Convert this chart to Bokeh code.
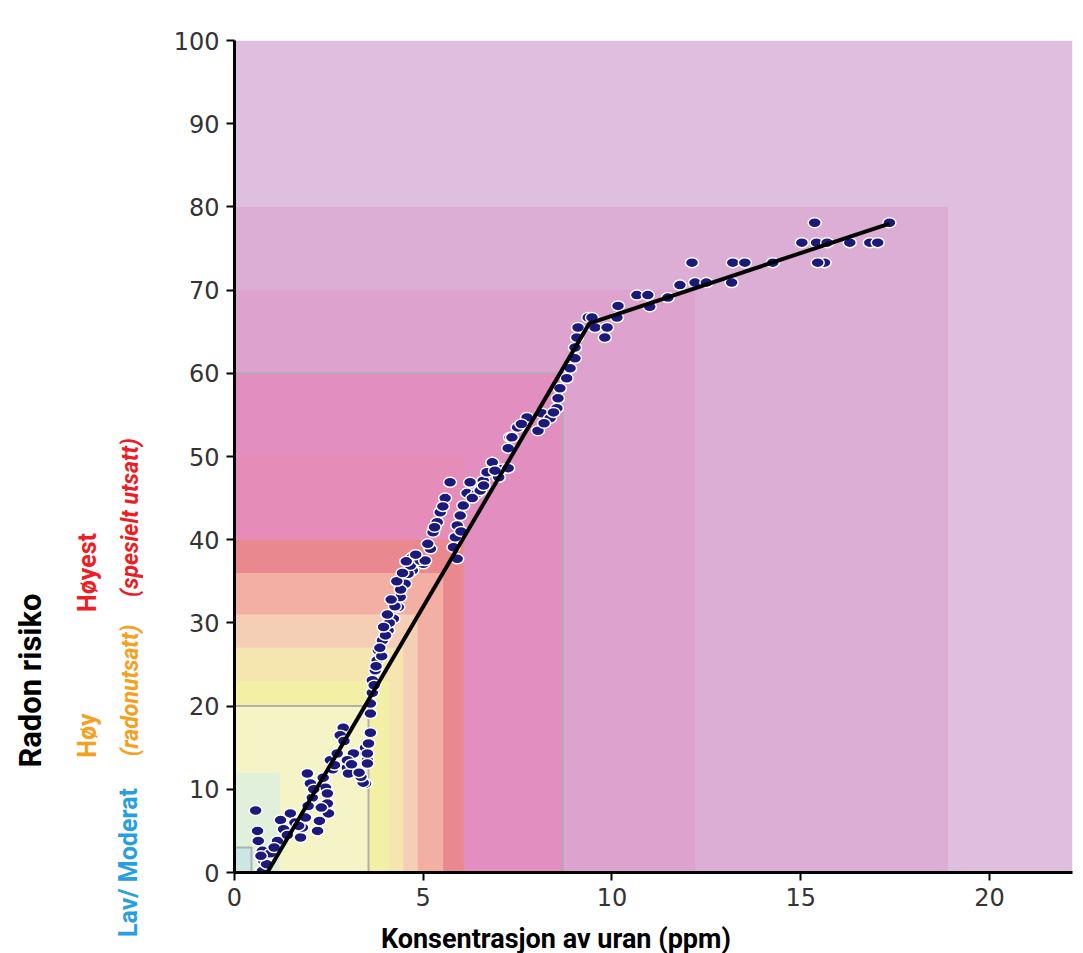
import math
from bokeh.plotting import figure
from bokeh.models import Range1d, FixedTicker
from bokeh.core.properties import value
from bokeh.layouts import row, column
from bokeh.embed import file_html
from bokeh.resources import INLINE

# ---------------- data ----------------
# nested risk zones (rectangles anchored at origin): right edge (ppm), top (risk), colour
zone_right = [22.2, 18.9, 12.2, 8.7, 6.1, 6.07, 5.53, 4.85, 4.47, 4.1, 3.55, 1.2, 0.45]
zone_top = [100, 80, 70, 60, 50, 40, 36, 31, 27, 23, 20, 12, 3]
zone_color = ["#dfbfdf", "#dcaed6", "#dea2cf", "#e28ec0", "#e58db8", "#e9898f",
              "#f3afa3", "#f5cfb5", "#f5e6b0", "#f3f0a6", "#f4f4c6", "#e0f0da", "#cde6e4"]
zone_edge = [None, None, None, "#b5a9b5", None, None, None, None, None, None,
             "#b0b0a8", None, "#a8b4b4"]

# measurements: uranium concentration (ppm) vs radon risk
uran_x = [0.56, 0.61, 0.63, 0.74, 0.77, 0.74, 0.95, 0.85, 1.14, 1.05, 1.22, 1.30, 1.48, 1.60,
          1.75, 1.80, 1.88, 1.93, 2.01, 2.06, 1.95, 2.20, 2.25, 2.35, 2.41, 2.46, 2.46, 2.49,
          2.54, 2.72, 2.60, 2.99, 3.02, 3.20, 3.47, 3.52, 3.47, 3.15, 2.99, 2.88, 2.80, 3.41,
          3.52, 3.52, 3.55, 3.60, 3.60, 3.60, 3.65, 3.65, 3.73, 3.78, 3.81, 3.92, 4.07, 4.21,
          4.34, 4.39, 4.52, 4.71, 5.00, 4.60, 4.66, 4.71, 4.92, 3.90, 4.00, 4.10, 4.25, 4.40,
          4.30, 5.05, 5.19, 5.26, 5.37, 5.45, 5.58, 5.71, 5.80, 5.85, 5.90, 5.98, 6.06, 6.16,
          6.24, 5.90, 6.43, 6.51, 6.59, 6.69, 6.83, 7.00, 7.10, 7.25, 7.25, 7.30, 7.35, 7.75,
          8.04, 8.14, 8.36, 8.54, 8.57, 8.62, 8.80, 8.89, 9.02, 9.02, 9.07, 9.10, 9.37, 9.47,
          9.55, 9.87, 9.81, 10.13, 10.16, 10.66, 10.95, 11.00, 11.48, 11.80, 12.12, 12.20,
          12.50, 13.17, 13.20, 13.52, 14.26, 15.03, 15.37, 15.42, 15.63, 15.45, 15.70, 16.30,
          16.83, 17.04, 17.35,
          3.70, 3.75, 3.85, 3.95, 4.05, 4.15, 4.45, 4.55, 4.80, 5.12, 5.30, 5.52, 6.00, 6.30,
          6.60, 6.90, 7.50, 7.60, 8.20, 8.45, 2.10, 2.30, 2.65, 3.10, 3.35, 1.40, 1.70, 0.70,
          2.90, 3.30]
risk_y = [7.45, 5.0, 3.8, 2.6, 1.4, 0.2, 2.3, 1.0, 3.8, 3.0, 6.3, 5.2, 7.1, 6.0,
          4.2, 5.4, 6.6, 11.9, 10.7, 9.0, 8.0, 5.0, 6.2, 11.4, 10.2, 9.5, 8.3, 7.1,
          13.5, 14.3, 12.4, 12.6, 11.9, 14.3, 15.0, 13.5, 10.7, 14.3, 13.5, 17.4, 16.5, 10.8,
          14.3, 13.1, 15.5, 16.8, 19.1, 20.3, 21.6, 23.1, 24.3, 25.5, 26.7, 27.9, 29.1, 30.5,
          31.9, 33.1, 34.7, 36.3, 37.1, 35.9, 36.9, 37.9, 37.5, 26.0, 28.5, 30.0, 32.0, 34.0,
          35.0, 37.5, 38.9, 40.9, 42.1, 43.3, 45.0, 46.9, 39.1, 40.3, 41.7, 42.9, 44.1, 45.6,
          46.9, 37.7, 45.6, 45.9, 47.1, 48.1, 49.3, 47.5, 48.5, 48.6, 51.0, 52.3, 52.3, 54.7,
          53.1, 55.2, 54.6, 55.8, 57.0, 58.2, 59.4, 60.6, 61.8, 63.1, 64.3, 65.5, 66.7, 66.7,
          65.5, 65.5, 64.3, 66.7, 68.1, 69.4, 69.4, 68.0, 69.1, 70.6, 73.3, 70.9,
          70.9, 70.9, 73.3, 73.3, 73.3, 75.7, 78.1, 75.7, 73.3, 73.3, 75.7, 75.7,
          75.7, 75.7, 78.1,
          22.5, 24.8, 27.0, 29.5, 31.0, 32.8, 36.0, 37.4, 38.2, 39.5, 41.5, 44.0, 41.0, 45.0,
          46.5, 48.3, 53.5, 53.9, 54.0, 55.3, 10.0, 7.8, 12.9, 13.0, 11.5, 4.5, 5.6, 2.0,
          15.8, 12.0]

# fitted trend (piecewise linear)
trend_x = [0.87, 9.4, 17.35]
trend_y = [0.0, 66.0, 78.0]

x_ticks = [0, 5, 10, 15, 20]
y_ticks = [0, 10, 20, 30, 40, 50, 60, 70, 80, 90, 100]

# side labels (text, colour)
risk_texts = ["Radon risiko", "Høyest", "Høy", "Lav/ Moderat", "(radonutsatt)", "(spesielt utsatt)"]
risk_colors = ["black", "#ee1c25", "#f5a020", "#2a9fe0", "#f5a020", "#ee1c25"]
x_title = "Konsentrasjon av uran (ppm)"

NARROW = "Liberation Sans Narrow, Roboto, sans-serif"
LEFT_W = 160
MAIN_H = 912

# ---------------- main figure ----------------
p = figure(width=1083 - LEFT_W, height=MAIN_H, x_range=Range1d(0, 22.2), y_range=Range1d(0, 100),
           output_backend="svg", toolbar_location=None,
           min_border_left=234 - LEFT_W, min_border_right=11, min_border_top=40,
           min_border_bottom=MAIN_H - 872)
p.outline_line_color = None
p.xgrid.visible = False
p.ygrid.visible = False

n = len(zone_right)
p.quad(left=[0] * n, bottom=[0] * n, right=zone_right, top=zone_top,
       fill_color=zone_color, line_color=None)
for r, t, e in zip(zone_right, zone_top, zone_edge):
    if e is not None:
        p.line([0, r, r], [t, t, 0], line_color=e, line_width=2)

p.ellipse(x=uran_x, y=risk_y, width=13, height=10, width_units="screen", height_units="screen",
          fill_color="#1b1a7c", line_color="white", line_width=1.5)

p.line(trend_x, trend_y, line_color="black", line_width=4)

for ax in (p.xaxis, p.yaxis):
    ax.axis_line_width = 3
    ax.axis_line_color = "black"
    ax.major_tick_line_width = 2
    ax.major_tick_line_color = "black"
    ax.major_tick_out = 8
    ax.major_tick_in = 0
    ax.minor_tick_line_color = None
    ax.major_label_text_font = "DejaVu Sans"
    ax.major_label_text_font_size = "24px"
    ax.major_label_text_color = "#333333"
    ax.major_label_standoff = 7
p.xaxis.ticker = FixedTicker(ticks=x_ticks)
p.yaxis.ticker = FixedTicker(ticks=y_ticks)

# ---------------- left label panel (pixel coordinates) ----------------
left = figure(width=LEFT_W, height=953, x_range=Range1d(0, LEFT_W), y_range=Range1d(953, 0),
              output_backend="svg", toolbar_location=None, min_border=0,
              x_axis_location=None, y_axis_location=None)
left.grid.visible = False
left.outline_line_color = None
lx = [30, 87, 87, 128, 130, 130]
ly = [680, 572, 735, 862, 690, 517]
lsize = ["31px", "25px", "25px", "25px", "23px", "23px"]
lstyle = ["bold", "bold", "bold", "bold", "bold italic", "bold italic"]
for t, c, x, y, s, st in zip(risk_texts, risk_colors, lx, ly, lsize, lstyle):
    left.text(x=[x], y=[y], text=[t], text_color=c, text_font=value(NARROW),
              text_font_size=s, text_font_style=st, angle=math.pi / 2,
              text_align="center", text_baseline="middle")

# ---------------- bottom title panel ----------------
bottom = figure(width=1083 - LEFT_W, height=953 - MAIN_H, x_range=Range1d(0, 1083 - LEFT_W),
                y_range=Range1d(953, MAIN_H), output_backend="svg", toolbar_location=None,
                min_border=0, x_axis_location=None, y_axis_location=None)
bottom.grid.visible = False
bottom.outline_line_color = None
bottom.text(x=[552 - LEFT_W - 38], y=[938], text=[x_title], text_color="black",
            text_font=value(NARROW), text_font_size="27px", text_font_style="bold",
            text_align="center", text_baseline="middle")

layout = row(left, column(p, bottom))
open("out.html", "w").write(file_html(layout, INLINE))
